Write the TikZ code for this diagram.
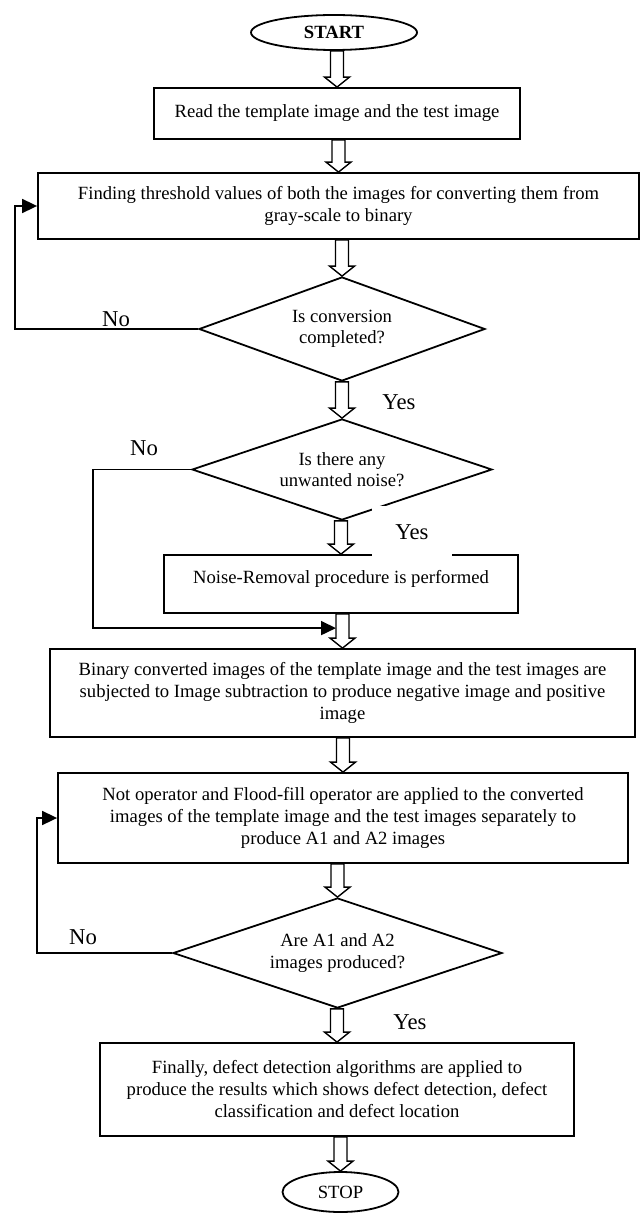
\documentclass[tikz,border=0pt]{standalone}
\usepackage{fontspec}
\setmainfont{Liberation Serif}
\usetikzlibrary{shapes.geometric,arrows.meta,calc}

% hollow block arrow from #1 down to #2
\newcommand{\fatarrow}[2]{%
  \path[fatline] let \p1=(#1), \p2=(#2) in
    (\x2-6.5pt,\y1) -- (\x2-6.5pt,\y2+10pt) -- (\x2-12.5pt,\y2+10pt)
    -- (\x2,\y2) -- (\x2+12.5pt,\y2+10pt) -- (\x2+6.5pt,\y2+10pt)
    -- (\x2+6.5pt,\y1) -- cycle;}

\begin{document}
\begin{tikzpicture}[
    x=1pt, y=-1pt,
    procbox/.style={draw, line width=1.8pt, align=center, inner sep=0pt, font=\fontsize{18.65}{22}\selectfont},
    decision/.style={draw, diamond, aspect=2.75, line width=1.8pt, align=center, inner sep=0pt, font=\fontsize{18.65}{21.5}\selectfont},
    terminal/.style={draw, ellipse, line width=1.8pt, inner sep=0pt, font=\fontsize{18.65}{22}\selectfont},
    answer/.style={font=\fontsize{22.7}{26}\selectfont, inner sep=0pt},
    fatline/.style={draw, line width=1.4pt, fill=white},
    loopline/.style={line width=1.7pt, -{Triangle[length=15pt,width=14pt]}}
]
\useasboundingbox (0,0) rectangle (640,1214);

% Steps
\node[terminal, minimum width=166pt, minimum height=35pt, font=\fontsize{18.65}{22}\selectfont\bfseries] (start) at (334,32.5) {START};
\node[procbox, minimum width=366pt, minimum height=51pt] (read) at (337,113.5) {Read the template image and the test image};
\node[procbox, minimum width=601pt, minimum height=66pt] (thresh) at (338.5,206) {Finding threshold values of both the images for converting them from\\gray-scale to binary};
\node[decision, minimum width=286pt, minimum height=104pt] (conv) at (342,329) {Is conversion\\completed?};
\node[decision, minimum width=300pt, minimum height=101pt] (noise) at (342,469.5) {Is there any\\unwanted noise?};
\node[procbox, minimum width=354pt, minimum height=58pt, text depth=14pt] (remove) at (341,584) {Noise-Removal procedure is performed};
\node[procbox, minimum width=585pt, minimum height=88pt] (subtract) at (342.5,693) {Binary converted images of the template image and the test images are\\subjected to Image subtraction to produce negative image and positive\\image};
\node[procbox, minimum width=570pt, minimum height=90pt] (flood) at (343,818) {Not operator and Flood-fill operator are applied to the converted\\images of the template image and the test images separately to\\produce A1 and A2 images};
\node[decision, minimum width=329pt, minimum height=110pt] (areimg) at (337.5,953) {Are A1 and A2\\images produced?};
\node[procbox, minimum width=474pt, minimum height=93pt] (final) at (337,1089.5) {Finally, defect detection algorithms are applied to\\produce the results which shows defect detection, defect\\classification and defect location};
\node[terminal, minimum width=116pt, minimum height=40pt] (stop) at (340.5,1192) {STOP};

% Main flow
\foreach \a/\b in {start/read, read/thresh, thresh/conv, conv/noise, noise/remove,
                   remove/subtract, subtract/flood, flood/areimg, areimg/final, final/stop} {
    \fatarrow{\a.south}{\b.north}
}

% Loops back
\coordinate (merge) at ($(subtract.north)+(-6.5,-20)$);
\draw[loopline] (conv.west) -- ++(-183,0) |- (thresh.west);
\draw[loopline] (noise.west) -- ++(-98,0) |- (merge);
\draw[loopline] (areimg.west) -- ++(-135,0) |- (flood.west);

% Answers
\node[answer] (no1) at (116,319) {No};
\node[answer] (yes1) at (399,402) {Yes};
\node[answer] (no2) at (144,448) {No};
\node[answer, fill=white, minimum width=80pt, minimum height=52pt] (yes2) at (412,532) {Yes};
\node[answer] (no3) at (83,937) {No};
\node[answer] (yes3) at (410,1022) {Yes};

\end{tikzpicture}
\end{document}
